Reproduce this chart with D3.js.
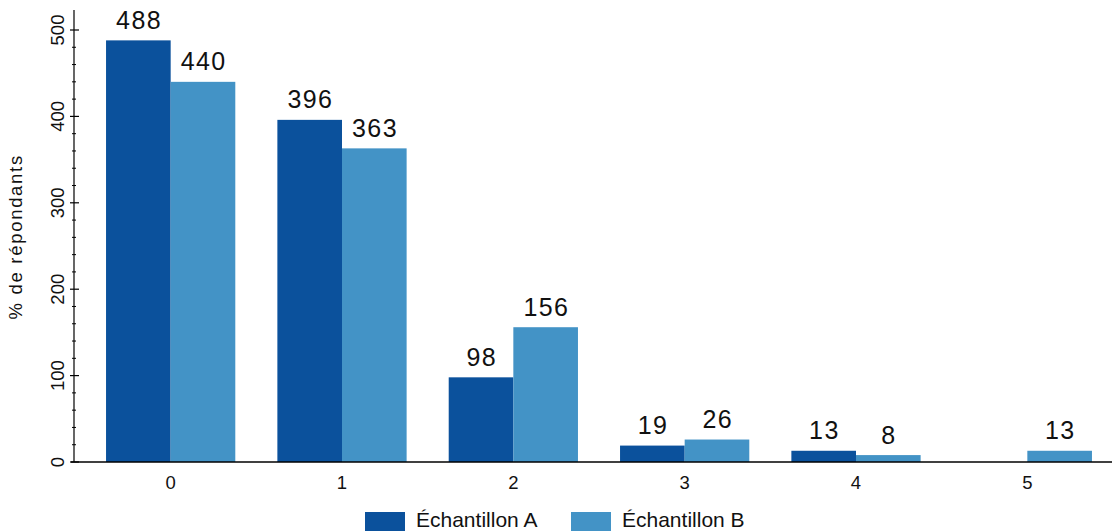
<!DOCTYPE html>
<html>
<head>
<meta charset="utf-8">
<script src="https://cdn.jsdelivr.net/npm/d3@7"></script>
<style>
  html, body { margin: 0; padding: 0; background: #fff; }
  svg { display: block; font-family: "Liberation Sans", Arial, sans-serif; }
</style>
</head>
<body>
<svg id="chart" width="1112" height="531"></svg>
<script>
const categories = ["0", "1", "2", "3", "4", "5"];
const seriesNames = ["Échantillon A", "Échantillon B"];
const seriesA = [488, 396, 98, 19, 13, null];
const seriesB = [440, 363, 156, 26, 8, 13];
const yTicks = [0, 100, 200, 300, 400, 500];
const yMinorTicks = d3.range(0, 521, 20);
const colors = ["#0b519c", "#4393c6"];
const yTitle = "% de répondants";

const svg = d3.select("#chart");
const axisX = 74, baseY = 462;

const x0 = d3.scaleBand().domain(categories).range([85, 1113])
  .paddingInner(0.2456).paddingOuter(0.1228);
const x1 = d3.scaleBand().domain(seriesNames).range([0, x0.bandwidth()]).padding(0);
const y = d3.scaleLinear().domain([0, 500]).range([baseY, 30]);

const rows = categories.map((c, i) => ({cat: c, vals: [seriesA[i], seriesB[i]]}));

// bars
const g = svg.append("g");
rows.forEach(r => {
  r.vals.forEach((v, j) => {
    if (v == null) return;
    const bx = x0(r.cat) + x1(seriesNames[j]);
    g.append("rect")
      .attr("x", bx).attr("width", x1.bandwidth())
      .attr("y", y(v)).attr("height", y(0) - y(v))
      .attr("fill", colors[j]);
    g.append("text")
      .attr("x", bx + x1.bandwidth() / 2 + 0.7)
      .attr("y", y(v) - 11.5)
      .attr("text-anchor", "middle")
      .attr("font-size", 25)
      .attr("letter-spacing", 1.4)
      .attr("fill", "#111")
      .text(v);
  });
});

// y axis
svg.append("line").attr("x1", axisX).attr("x2", axisX).attr("y1", 10).attr("y2", baseY)
  .attr("stroke", "#000").attr("stroke-width", 1.2);
yMinorTicks.filter(t => t % 100 !== 0 && t <= 500).forEach(t => {
  svg.append("line").attr("x1", axisX - 2).attr("x2", axisX + 2)
    .attr("y1", y(t)).attr("y2", y(t)).attr("stroke", "#000").attr("stroke-width", 1);
});
yTicks.forEach(t => {
  svg.append("line").attr("x1", axisX - 4).attr("x2", axisX + 5)
    .attr("y1", y(t)).attr("y2", y(t)).attr("stroke", "#000").attr("stroke-width", 1.2);
  svg.append("text")
    .attr("transform", `translate(63.5,${y(t)}) rotate(-90)`)
    .attr("text-anchor", "middle")
    .attr("font-size", 18.5)
    .attr("fill", "#111")
    .text(t);
});
svg.append("text")
  .attr("transform", `translate(22,${(10 + baseY) / 2 + 0.8}) rotate(-90)`)
  .attr("text-anchor", "middle")
  .attr("font-size", 18.5)
  .attr("letter-spacing", 1.7)
  .attr("fill", "#111")
  .text(yTitle);

// x axis
svg.append("line").attr("x1", 71).attr("x2", 1112).attr("y1", baseY).attr("y2", baseY)
  .attr("stroke", "#000").attr("stroke-width", 1.5);
categories.forEach(c => {
  svg.append("text")
    .attr("x", x0(c) + x0.bandwidth() / 2)
    .attr("y", 489)
    .attr("text-anchor", "middle")
    .attr("font-size", 18.5)
    .attr("fill", "#111")
    .text(c);
});

// legend
const legendX = [365, 571];
seriesNames.forEach((s, j) => {
  svg.append("rect").attr("x", legendX[j]).attr("y", 512).attr("width", 40).attr("height", 24)
    .attr("fill", colors[j]);
  svg.append("text").attr("x", legendX[j] + 51).attr("y", 527)
    .attr("font-size", 21).attr("fill", "#111").text(s);
});
</script>
</body>
</html>
